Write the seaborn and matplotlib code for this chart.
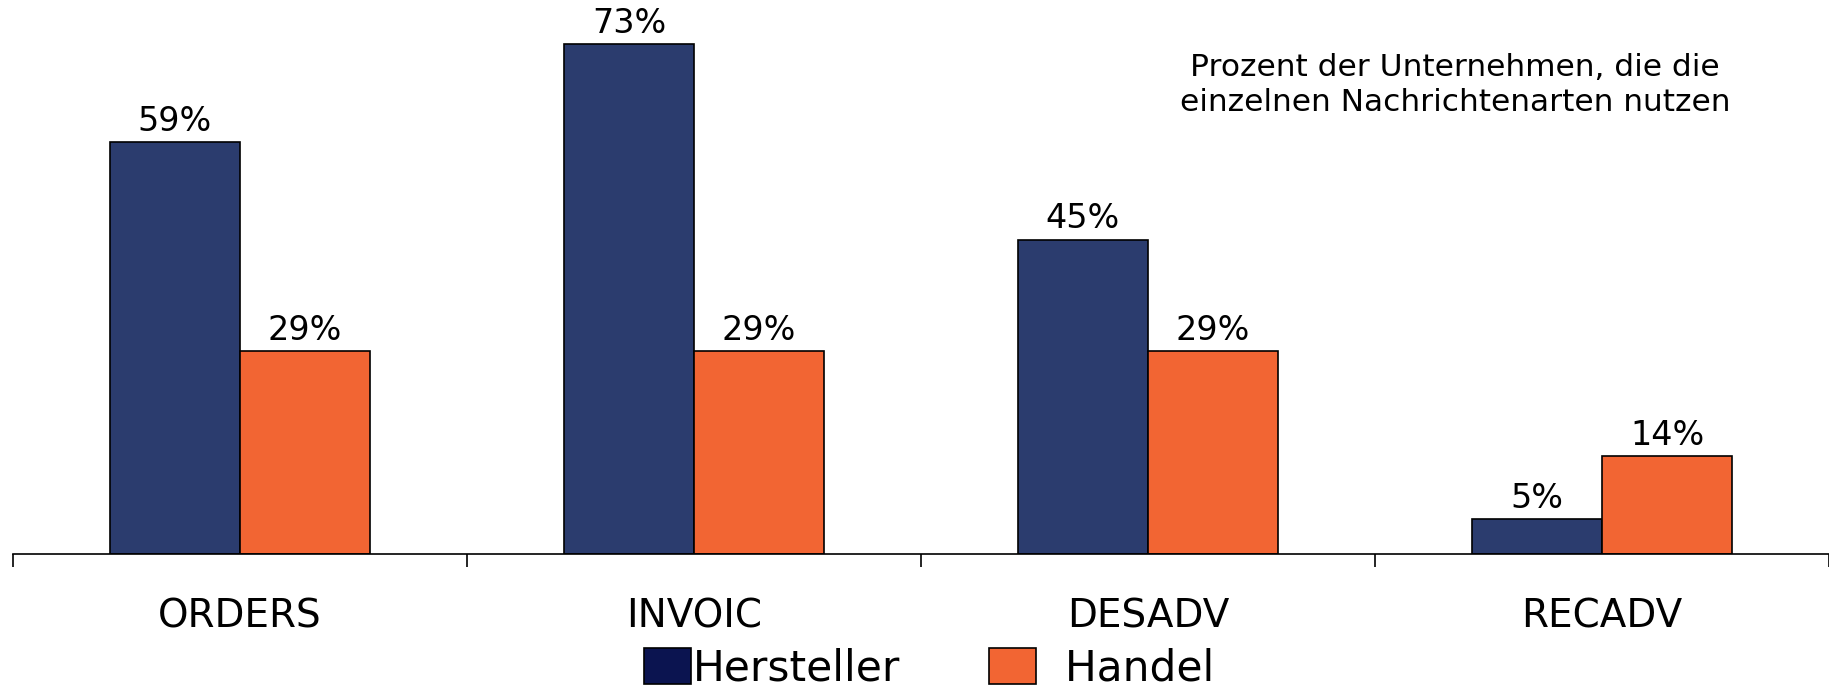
import matplotlib
matplotlib.use('Agg')
import matplotlib.pyplot as plt
from matplotlib.patches import Patch
import pandas as pd
import seaborn as sns

categories = ['ORDERS', 'INVOIC', 'DESADV', 'RECADV']
hersteller = [59, 73, 45, 5]
handel = [29, 29, 29, 14]
series = ['Hersteller', 'Handel']

bar_colors = ['#2b3c6e', '#f26533']
legend_colors = ['#0b1450', '#f26533']

df = pd.DataFrame({
    'Nachricht': categories * 2,
    'Gruppe': [series[0]] * len(categories) + [series[1]] * len(categories),
    'Anteil': hersteller + handel,
})

sns.set_style('white')
plt.rcParams['font.family'] = ['DejaVu Sans']
plt.rcParams['text.color'] = 'black'
plt.rcParams['xtick.color'] = 'black'
plt.rcParams['xtick.labelcolor'] = 'black'
plt.rcParams['xtick.bottom'] = True

fig = plt.figure(figsize=(18.29, 6.89), dpi=100)
ax = fig.add_axes([13 / 1829, 135 / 689, 1 - 13 / 1829, 554 / 689])

sns.barplot(data=df, x='Nachricht', y='Anteil', hue='Gruppe', order=categories,
            hue_order=series, palette=bar_colors, width=0.573, saturation=1,
            edgecolor='black', linewidth=1.2, legend=False, ax=ax)

for cont in ax.containers:
    ax.bar_label(cont, fmt='%d%%', padding=3, fontsize=24, color='black')

ax.set_ylim(0, 79.3)
ax.set_xlim(-0.5, 3.5)
ax.set_yticks([])
ax.set_xlabel('')
ax.set_ylabel('')
for s in ['left', 'top', 'right']:
    ax.spines[s].set_visible(False)
ax.spines['bottom'].set_color('black')
ax.spines['bottom'].set_linewidth(1.2)

ax.tick_params(axis='x', which='major', length=0, pad=31, labelsize=28, labelcolor='black')
ax.set_xticks([-0.5, 0.5, 1.5, 2.5, 3.5], minor=True)
ax.tick_params(axis='x', which='minor', bottom=True, length=9.5, width=1.2,
               color='black', direction='out')

ax.text(0.794, 0.905, 'Prozent der Unternehmen, die die\neinzelnen Nachrichtenarten nutzen',
        transform=ax.transAxes, ha='center', va='top', fontsize=22.5, linespacing=1.27,
        color='black')

handles = [Patch(facecolor=legend_colors[0], edgecolor='black', linewidth=1.2),
           Patch(facecolor=legend_colors[1], edgecolor='black', linewidth=1.2)]
leg = fig.legend(handles, ['Hersteller', '  Handel'], loc='center', bbox_to_anchor=(0.508, 0.030),
                 ncol=2, frameon=False, fontsize=30.5, handlelength=1.1, handleheight=0.95,
                 handletextpad=0.05, columnspacing=2.1, borderpad=0)
for t in leg.get_texts():
    t.set_color('black')

fig.savefig('out.png', dpi=100)
